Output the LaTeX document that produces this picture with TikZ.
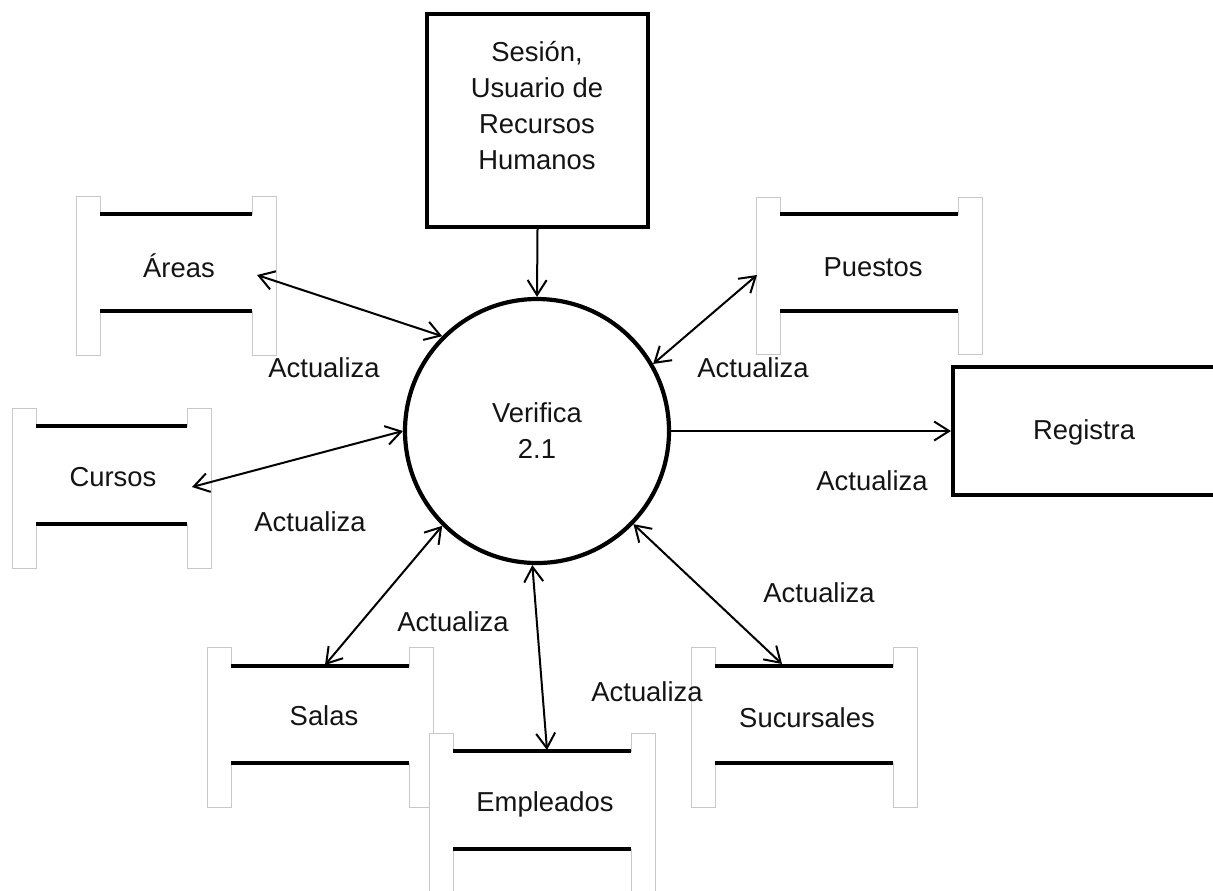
\documentclass[tikz,border=0pt]{standalone}
\usepackage{fontspec}
\setmainfont{Liberation Sans}
\usetikzlibrary{arrows.meta}
\definecolor{storegray}{RGB}{200,200,200}
\definecolor{inkblack}{RGB}{20,20,20}
\tikzset{
  barb/.tip={Straight Barb[length=7.5pt,width=9.5pt]},
  storeoutline/.style={draw=storegray, fill=white, line width=0.5pt},
  storebar/.style={draw=black, line width=2.2pt},
  storelabel/.style={inner sep=0pt, text=inkblack},
  flowlabel/.style={inner sep=0pt, text=inkblack},
  flowtwo/.style={draw=black, line width=1pt, barb-barb},
  flowone/.style={draw=black, line width=1pt, -barb},
  entity/.style={draw=black, line width=2pt, rectangle, inner sep=0pt, fill=white},
  process/.style={draw=black, line width=2.1pt, circle, inner sep=0pt, align=center, fill=white, text=inkblack},
}
\newcommand\dstore[6]{%
  \filldraw[storeoutline] (#1,#3) -- (#1+24,#3) -- (#1+24,#4) -- (#2-24,#4) -- (#2-24,#3) -- (#2,#3) -- (#2,#6) -- (#2-24,#6) -- (#2-24,#5) -- (#1+24,#5) -- (#1+24,#6) -- (#1,#6) -- cycle;
  \draw[storebar] (#1+24,#4) -- (#2-24,#4);
  \draw[storebar] (#1+24,#5) -- (#2-24,#5);
}
\begin{document}
\begin{tikzpicture}[x=0.5pt,y=-0.5pt, font=\fontsize{13.7pt}{18pt}\selectfont]
\useasboundingbox (0,0) rectangle (1213,890);
\fill[white] (0,0) rectangle (1213,890);
\clip (0,0) rectangle (1213,890);

% data stores
\dstore{76}{276}{196}{214}{311}{355}
\dstore{12}{211}{408}{426}{524}{568}
\dstore{756}{982}{197}{214}{311}{354}
\dstore{207}{433}{647}{666}{763}{807}
\dstore{691}{917}{647}{666}{763}{807}
\dstore{429}{655}{733}{751}{849}{893}

\node[storelabel] (areas) at (179,266) {Áreas};
\node[storelabel] (cursos) at (113,477) {Cursos};
\node[storelabel] (puestos) at (873,267) {Puestos};
\node[storelabel] (salas) at (324,716) {Salas};
\node[storelabel] (sucursales) at (807,718) {Sucursales};
\node[storelabel] (empleados) at (545,804) {Empleados};

% entities and process
\node[entity, minimum width=110.5pt, minimum height=106.5pt] (sesion) at (537.5,120.5) {};
\node[storelabel, align=center] (sesiontext) at (537,106) {Sesión,\\Usuario de\\Recursos\\Humanos};
\node[entity, minimum width=131.5pt, minimum height=64pt] (registra) at (1084.5,431) {};
\node[storelabel] (registratext) at (1084,432) {Registra};
\node[process, minimum size=132pt] (v) at (537,431) {Verifica\\2.1};

% free ends at the data stores
\coordinate (aA) at (257,275);
\coordinate (aC) at (192,487);
\coordinate (aS) at (325,665);
\coordinate (aE) at (547,750);
\coordinate (aSu) at (782,664);
\coordinate (aP) at (757,275);

% connectors
\draw[flowone] (sesion.south) -- (v.north);
\draw[flowone] (v.east) -- (registra.west);
\draw[flowtwo] (aA) -- (v.135);
\draw[flowtwo] (aC) -- (v.180);
\draw[flowtwo] (aS) -- (v.225);
\draw[flowtwo] (aE) -- (v.268);
\draw[flowtwo] (aSu) -- (v.316);
\draw[flowtwo] (aP) -- (v.30);

% labels
\node[flowlabel] (l1) at (324,368) {Actualiza};
\node[flowlabel] (l2) at (310,522) {Actualiza};
\node[flowlabel] (l3) at (453,622) {Actualiza};
\node[flowlabel] (l4) at (647,692) {Actualiza};
\node[flowlabel] (l5) at (753,368) {Actualiza};
\node[flowlabel] (l6) at (872,481) {Actualiza};
\node[flowlabel] (l7) at (819,593) {Actualiza};
\end{tikzpicture}
\end{document}
